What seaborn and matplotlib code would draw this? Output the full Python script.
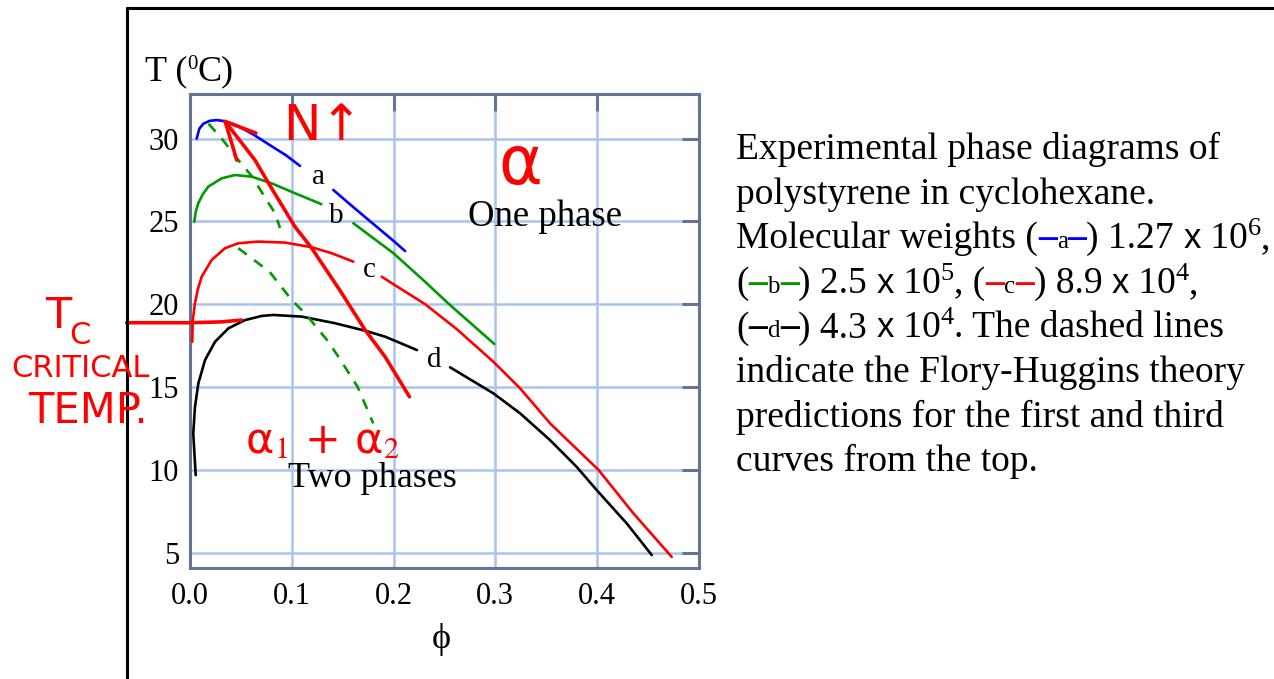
import numpy as np
import pandas as pd
import matplotlib
matplotlib.use("Agg")
import matplotlib.pyplot as plt
from matplotlib.lines import Line2D
import seaborn as sns

# ---------------- data ----------------
a_phi_1 = [0.0064, 0.009, 0.013, 0.019, 0.026, 0.034, 0.0457, 0.062, 0.0785, 0.094, 0.108]
a_T_1 = [30.0, 30.6, 30.9, 31.07, 31.12, 31.05, 30.8, 30.25, 29.6, 29.0, 28.35]
a_phi_2 = [0.1407, 0.16, 0.18, 0.2, 0.2113]
a_T_2 = [26.9, 25.88, 24.85, 23.82, 23.21]

b_phi_1 = [0.004, 0.0055, 0.008, 0.0125, 0.0178, 0.031, 0.044, 0.0605, 0.080, 0.103, 0.129]
b_T_1 = [24.98, 25.6, 26.1, 26.65, 27.1, 27.6, 27.8, 27.7, 27.3, 26.7, 26.04]
b_phi_2 = [0.1604, 0.1998, 0.2275, 0.2555, 0.299]
b_T_2 = [24.89, 23.08, 21.55, 19.95, 17.6]

c_phi_1 = [0.002, 0.0025, 0.0045, 0.0075, 0.0113, 0.0211, 0.0342, 0.0473, 0.067, 0.0932,
           0.1195, 0.139, 0.1604]
c_T_1 = [17.73, 19.0, 20.0, 20.9, 21.66, 22.67, 23.38, 23.68, 23.78, 23.72,
         23.44, 23.08, 22.57]
c_phi_2 = [0.1883, 0.2, 0.231, 0.262, 0.298, 0.3244, 0.3539, 0.4014, 0.4358, 0.4735]
c_T_2 = [21.66, 21.2, 20.0, 18.5, 16.53, 14.92, 12.8, 10.0, 7.37, 4.74]

d_phi_1 = [0.0054, 0.003, 0.0047, 0.008, 0.0146, 0.0244, 0.0375, 0.0539, 0.0703, 0.0817,
           0.1096, 0.1424, 0.172, 0.1916, 0.223]
d_T_1 = [9.68, 12.2, 13.8, 15.22, 16.63, 17.73, 18.54, 19.04, 19.29, 19.35,
         19.25, 18.85, 18.4, 18.04, 17.23]
d_phi_2 = [0.2555, 0.298, 0.3244, 0.3539, 0.380, 0.3998, 0.4293, 0.4539]
d_T_2 = [16.19, 14.62, 13.41, 11.79, 10.18, 8.77, 6.76, 4.85]

# Flory-Huggins predictions (dashed)
fh_a_phi = [0.018, 0.031, 0.048, 0.061, 0.075, 0.0834, 0.0883]
fh_a_T = [30.9, 30.0, 28.65, 27.7, 26.3, 25.5, 24.6]
fh_c_phi = [0.0473, 0.062, 0.078, 0.0998, 0.1129, 0.1345, 0.1457, 0.1647, 0.18]
fh_c_T = [23.38, 22.7, 21.96, 20.25, 19.45, 17.84, 16.83, 15.0, 12.8]

# hand-drawn annotation strokes
hand_phi = [0.0344, 0.0637, 0.080, 0.103, 0.1195, 0.1476, 0.172, 0.1916, 0.2156]
hand_T = [31.03, 28.7, 27.0, 24.68, 23.38, 20.8, 18.44, 16.83, 14.41]
head_phi_1 = [0.0344, 0.0647]
head_T_1 = [31.03, 30.33]
head_phi_2 = [0.0344, 0.0458]
head_T_2 = [31.03, 28.7]
tc_phi = [-0.0625, 0.0, 0.03, 0.0505]
tc_T = [18.88, 18.88, 18.93, 19.04]

x_ticks = [0.0, 0.1, 0.2, 0.3, 0.4, 0.5]
y_ticks = [5, 10, 15, 20, 25, 30]

curve_labels = ["a", "b", "c", "d"]
curve_label_pos = [(0.126, 27.7), (0.1441, 25.3), (0.1761, 22.07), (0.240, 16.6)]

# ---------------- style ----------------
sns.set_style("white")
SERIF = ["Liberation Serif", "DejaVu Serif"]
plt.rcParams["font.family"] = SERIF
plt.rcParams["mathtext.fontset"] = "stix"
plt.rcParams["text.color"] = "black"
plt.rcParams["xtick.labelcolor"] = "black"
plt.rcParams["ytick.labelcolor"] = "black"

W, H, DPI = 1274, 679, 100
fig = plt.figure(figsize=(W / DPI, H / DPI), dpi=DPI)
fig.patch.set_facecolor("white")
ax = fig.add_axes([0.1493, 0.1630, 0.3991, 0.6985])
ax.set_facecolor("white")

SLATE = "#64739a"
GRIDC = "#aac3ef"
BLUE, GREEN, RED = "#0000ff", "#009a00", "#ff0000"
LW = 1.9


def seg(xs, ys, color, ls="-", lw=LW, z=3):
    sns.lineplot(x=xs, y=ys, ax=ax, color=color, linestyle=ls, linewidth=lw,
                 estimator=None, sort=False, zorder=z)


seg(a_phi_1, a_T_1, BLUE); seg(a_phi_2, a_T_2, BLUE)
seg(b_phi_1, b_T_1, GREEN); seg(b_phi_2, b_T_2, GREEN)
seg(c_phi_1, c_T_1, RED); seg(c_phi_2, c_T_2, RED)
seg(d_phi_1, d_T_1, "black"); seg(d_phi_2, d_T_2, "black")
for xs, ys in [(fh_a_phi, fh_a_T), (fh_c_phi, fh_c_T)]:
    ax.plot(xs, ys, color=GREEN, lw=LW, ls=(0, (4, 3.5)), zorder=3)

for lab, (px, py) in zip(curve_labels, curve_label_pos):
    ax.text(px, py, lab, fontsize=21, ha="center", va="center", family=SERIF, color="black")

ax.text(0.349, 25.29, "One phase", fontsize=26.5, ha="center", va="center", family=SERIF,
        color="black")
ax.text(0.1795, 9.48, "Two phases", fontsize=26, ha="center", va="center", family=SERIF,
        color="black")

# hand-drawn annotations
HLW = 2.6
ax.plot(hand_phi, hand_T, color=RED, lw=HLW, zorder=4, solid_capstyle="round")
ax.plot(head_phi_1, head_T_1, color=RED, lw=HLW, zorder=4, solid_capstyle="round")
ax.plot(head_phi_2, head_T_2, color=RED, lw=HLW, zorder=4, solid_capstyle="round")
ax.plot(tc_phi, tc_T, color=RED, lw=HLW, zorder=4, clip_on=False)
HAND = ["DejaVu Sans"]
ax.text(0.13, 30.75, "N↑", color=RED, fontsize=36, ha="center", va="center", family=HAND)
ax.text(0.3245, 28.4, "α", color=RED, fontsize=48, ha="center", va="center", family=HAND)
ax.text(0.130, 11.75, "α$_{1}$ + α$_{2}$", color=RED, fontsize=31, ha="center", va="center",
        family=HAND)

ax.set_xlim(0.0, 0.5)
ax.set_ylim(4.05, 32.69)
ax.set_xticks(x_ticks)
ax.set_yticks(y_ticks)
ax.set_xticklabels([f"{v:.1f}" for v in x_ticks])
ax.set_yticklabels([str(v) for v in y_ticks])
ax.grid(True, color=GRIDC, lw=1.8, zorder=0)
ax.set_axisbelow(True)
ax.tick_params(axis="both", direction="in", length=12, width=2.2, color=SLATE,
               top=True, right=True, labelsize=22, labelcolor="black")
ax.tick_params(axis="x", pad=10)
ax.tick_params(axis="y", pad=8)
for sp in ax.spines.values():
    sp.set_color(SLATE)
    sp.set_linewidth(2.2)
    sp.set_visible(True)
ax.set_xlabel("")
ax.set_ylabel("")

# slide frame
fig.add_artist(Line2D([127 / W, 127 / W], [0, 1 - 8 / H], transform=fig.transFigure,
                      color="black", lw=2.2))
fig.add_artist(Line2D([127 / W, 1], [1 - 8 / H, 1 - 8 / H], transform=fig.transFigure,
                      color="black", lw=2.2))

# ---------------- text fragments ----------------
fig.canvas.draw()
renderer = fig.canvas.get_renderer()


def frag_width(s, kw):
    t1 = fig.text(0, 0, "|" + s + "|", **kw)
    t2 = fig.text(0, 0, "||", **kw)
    w = t1.get_window_extent(renderer).width - t2.get_window_extent(renderer).width
    t1.remove(); t2.remove()
    return w


def write_line(x, y, frags):
    for f in frags:
        s = f[0]
        opts = f[1] if len(f) > 1 else {}
        kw = dict(fontsize=opts.get("size", 27), color=opts.get("color", "black"),
                  family=opts.get("family", SERIF), fontweight=opts.get("weight", "normal"))
        dy = opts.get("dy", 0)
        fig.text(x / W, 1 - (y + dy) / H, s, ha="left", va="baseline", **kw)
        x += frag_width(s, kw)
    return x


SUP = {"size": 19, "dy": -13}
SMALL = {"size": 18}
SANS = {"family": ["Liberation Sans", "DejaVu Sans"], "size": 25}


def dash(c):
    return ("–", {"color": c, "weight": "bold"})


# axis titles
write_line(145, 80, [("T (", {"size": 26}), ("0", {"size": 15, "dy": -11}), ("C)", {"size": 26})])
fig.text(441.5 / W, 1 - 640 / H, "ϕ", fontsize=26, ha="center", va="center", family=SERIF)

X0, Y0, LS = 736, 159, 44.6
lines = [
    [("Experimental phase diagrams of",)],
    [("polystyrene in cyclohexane.",)],
    [("Molecular weights (",), dash(BLUE), ("a", SMALL), dash(BLUE), (") 1.27 ",), ("x", SANS),
     (" 10",), ("6", SUP), (",",)],
    [("(",), dash(GREEN), ("b", SMALL), dash(GREEN), (") 2.5 ",), ("x", SANS), (" 10",), ("5", SUP),
     (", (",), dash(RED), ("c", SMALL), dash(RED), (") 8.9 ",), ("x", SANS), (" 10",), ("4", SUP),
     (",",)],
    [("(",), dash("black"), ("d", SMALL), dash("black"), (") 4.3 ",), ("x", SANS), (" 10",),
     ("4", SUP), (". The dashed lines",)],
    [("indicate the Flory-Huggins theory",)],
    [("predictions for the first and third",)],
    [("curves from the top.",)],
]
for i, frags in enumerate(lines):
    write_line(X0, Y0 + i * LS, frags)

# Tc annotation (outside the axes)
fig.text(58 / W, 1 - 316 / H, "T", color=RED, fontsize=31, ha="center", va="center", family=HAND)
fig.text(80 / W, 1 - 336 / H, "C", color=RED, fontsize=22, ha="center", va="center", family=HAND)
fig.text(80 / W, 1 - 369 / H, "CRITICAL", color=RED, fontsize=22, ha="center", va="center",
         family=HAND)
fig.text(88 / W, 1 - 411 / H, "TEMP.", color=RED, fontsize=30, ha="center", va="center",
         family=HAND)

fig.savefig("out.png", dpi=DPI, facecolor="white")
